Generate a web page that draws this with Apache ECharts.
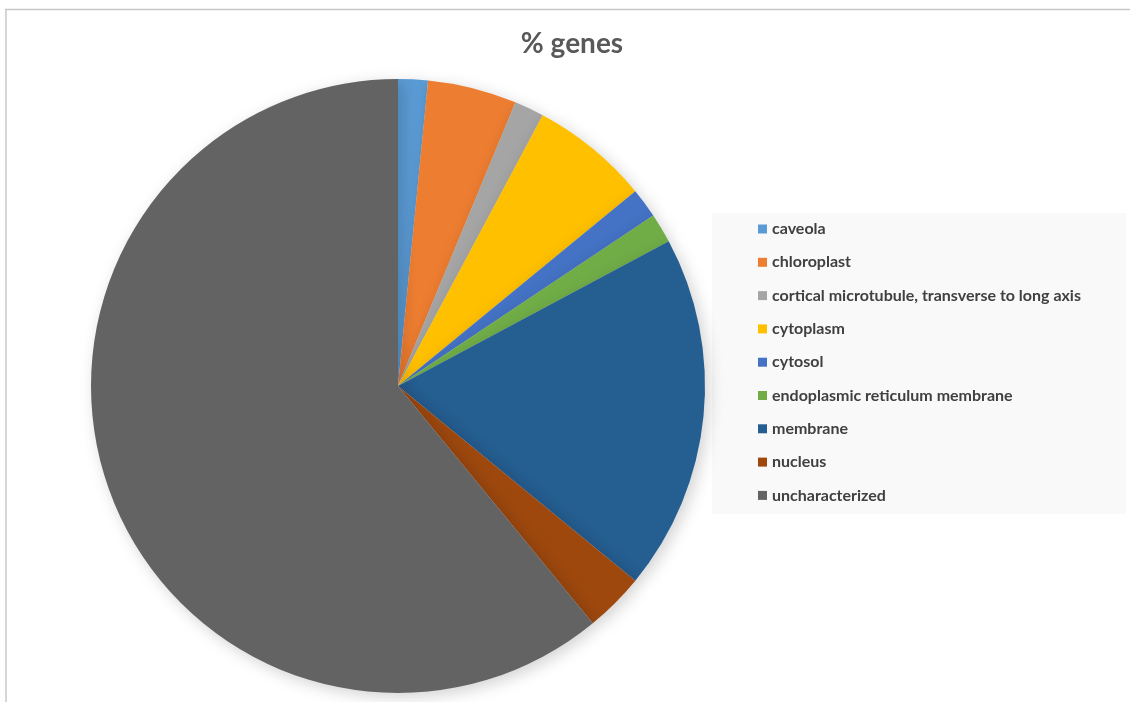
<!DOCTYPE html>
<html>
<head>
<meta charset="utf-8">
<script src="https://cdn.jsdelivr.net/npm/echarts@6/dist/echarts.min.js"></script>
<style>
  html, body { margin: 0; padding: 0; background: #fff; }
  #chart { width: 1130px; height: 702px; }
</style>
</head>
<body>
<div id="chart"></div>
<script>
// gene counts per location (out of 64)
const categories = [
  'caveola', 'chloroplast', 'cortical microtubule, transverse to long axis',
  'cytoplasm', 'cytosol', 'endoplasmic reticulum membrane',
  'membrane', 'nucleus', 'uncharacterized',
];
const geneCounts = [1, 3, 1, 4, 1, 1, 12, 2, 39];
const sliceColors = [
  '#5B9BD5', '#ED7D31', '#A5A5A5', '#FFC000', '#4472C4',
  '#70AD47', '#255E91', '#9E480E', '#636363',
];

const font = 'Lato, "Open Sans", sans-serif';
const chart = echarts.init(document.getElementById('chart'));

chart.setOption({
  animation: false,
  title: {
    text: '% genes',
    left: 567,
    top: 25,
    textAlign: 'center',
    textStyle: { fontFamily: font, fontSize: 28, fontWeight: 'bold', color: '#595959' },
  },
  graphic: [
    // outer chart frame (top and left edges visible)
    { type: 'line', shape: { x1: 5, y1: 9.5, x2: 1130, y2: 9.5 }, style: { stroke: '#c8c8c8', lineWidth: 1.5 } },
    { type: 'line', shape: { x1: 6, y1: 9.5, x2: 6, y2: 702 }, style: { stroke: '#c8c8c8', lineWidth: 1.5 } },
    // legend panel
    { type: 'rect', shape: { x: 712, y: 213, width: 414, height: 301 }, style: { fill: '#f9f9f9' }, z: 0 },
  ],
  legend: {
    orient: 'vertical',
    left: 758,
    top: 220,
    padding: 0,
    itemWidth: 9,
    itemHeight: 9,
    itemGap: 15.3,
    icon: 'rect',
    textStyle: { fontFamily: font, fontSize: 16, fontWeight: 'bold', color: '#404040', lineHeight: 18 },
    data: categories,
    z: 5,
  },
  series: [{
    type: 'pie',
    center: [398, 386],
    radius: 307,
    startAngle: 90,
    clockwise: true,
    label: { show: false },
    labelLine: { show: false },
    emphasis: { disabled: true },
    itemStyle: {
      borderWidth: 0,
      shadowBlur: 16,
      shadowOffsetX: 4,
      shadowOffsetY: 4,
      shadowColor: 'rgba(0,0,0,0.18)',
    },
    data: categories.map((name, i) => ({
      name,
      value: geneCounts[i],
      itemStyle: { color: sliceColors[i] },
    })),
  }],
});
</script>
</body>
</html>
